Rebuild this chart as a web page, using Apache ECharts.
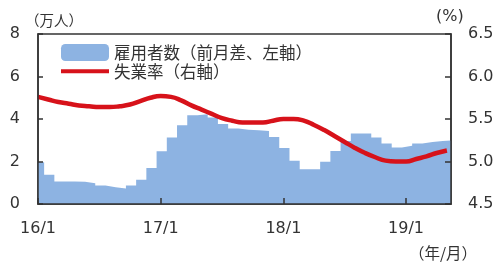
<!DOCTYPE html>
<html>
<head>
<meta charset="utf-8">
<script src="https://cdn.jsdelivr.net/npm/echarts@6/dist/echarts.min.js"></script>
<style>
html,body{margin:0;padding:0;background:#fff;}
#chart{width:500px;height:266px;}
</style>
</head>
<body>
<div id="chart"></div>
<script>
// Monthly data, 2016/1 .. 2019/5 (index 0 = 16/1)
const employmentChange = [1.96,1.38,1.06,1.06,1.05,0.98,0.87,0.79,0.73,0.87,1.14,1.70,2.48,3.13,3.71,4.18,4.22,4.07,3.76,3.55,3.50,3.47,3.43,3.15,2.63,2.03,1.63,1.63,1.99,2.50,2.97,3.32,3.32,3.13,2.85,2.66,2.74,2.85,2.92,2.97,3.00];
const unemploymentRate = [5.76,5.73,5.70,5.68,5.66,5.65,5.64,5.64,5.65,5.67,5.71,5.75,5.77,5.76,5.72,5.66,5.61,5.56,5.51,5.48,5.46,5.46,5.46,5.48,5.50,5.50,5.48,5.43,5.37,5.30,5.23,5.16,5.10,5.05,5.01,5.00,5.00,5.03,5.06,5.10,5.13];
const xTickLabels = ['16/1','17/1','18/1','19/1'];
const seriesNames = ['雇用者数（前月差、左軸）','失業率（右軸）'];

const BLUE = '#8db3e2';
const RED = '#d7121a';
const INK = '#333333';
const NUM_FONT = 'DejaVu Sans';
const JP_FONT = 'Noto Sans CJK JP';

// bars: each month's step spans its own month band
const empData = employmentChange.map((v, k) => [k - 0.4, v]);
empData.push([employmentChange.length - 0.4, employmentChange[employmentChange.length - 1]]);
const rateData = unemploymentRate.map((v, k) => [k, v]);

const chart = echarts.init(document.getElementById('chart'), null, {renderer: 'canvas'});
chart.setOption({
  animation: false,
  grid: {left: 38, right: 49, top: 34, bottom: 62, show: true, borderColor: INK, borderWidth: 1.5, backgroundColor: 'transparent'},
  legend: {
    orient: 'vertical', left: 61, top: 44, padding: 0, itemWidth: 48, itemHeight: 17, itemGap: 2,
    symbolKeepAspect: true,
    textStyle: {fontFamily: JP_FONT, fontSize: 16.5, color: INK},
    data: [
      {name: seriesNames[0], icon: 'roundRect', itemStyle: {color: BLUE, borderWidth: 0}},
      {name: seriesNames[1], icon: 'path://M0,0 L48,0 L48,4 L0,4 Z', itemStyle: {color: RED, borderWidth: 0}}
    ]
  },
  xAxis: {
    type: 'value', min: 0, max: 40.4, interval: 12, z: 10,
    axisLine: {show: true, lineStyle: {color: INK, width: 1.5}},
    axisTick: {show: true, inside: true, length: 6, lineStyle: {color: INK, width: 1.5}},
    splitLine: {show: false},
    axisLabel: {
      fontFamily: NUM_FONT, fontSize: 16, color: INK, margin: 17, showMinLabel: true, showMaxLabel: false,
      formatter: v => (Math.abs(v % 12) < 1e-9 ? (xTickLabels[v / 12] || '') : '')
    }
  },
  yAxis: [
    {
      type: 'value', min: 0, max: 8, interval: 2, position: 'left', z: 10,
      axisLine: {show: true, lineStyle: {color: INK, width: 1.5}},
      axisTick: {show: true, inside: true, length: 5, lineStyle: {color: INK, width: 1.5}},
      splitLine: {show: false},
      axisLabel: {fontFamily: NUM_FONT, fontSize: 16, color: INK, margin: 18}
    },
    {
      type: 'value', min: 4.5, max: 6.5, interval: 0.5, position: 'right', z: 10,
      axisLine: {show: true, lineStyle: {color: INK, width: 1.5}},
      axisTick: {show: true, inside: true, length: 6, lineStyle: {color: INK, width: 1.5}},
      splitLine: {show: false},
      axisLabel: {fontFamily: NUM_FONT, fontSize: 16, color: INK, margin: 17, formatter: v => v.toFixed(1)}
    }
  ],
  series: [
    {
      name: seriesNames[0], type: 'line', step: 'end', yAxisIndex: 0, data: empData,
      symbol: 'none', clip: true, z: 2,
      color: BLUE,
      itemStyle: {color: BLUE, borderWidth: 0},
      lineStyle: {width: 0, color: BLUE},
      areaStyle: {color: BLUE, opacity: 1}
    },
    {
      name: seriesNames[1], type: 'line', yAxisIndex: 1, data: rateData,
      symbol: 'none', smooth: 0.5, clip: true, z: 3,
      color: RED,
      itemStyle: {color: RED},
      lineStyle: {width: 4.5, color: RED}
    }
  ],
  graphic: [
    {type: 'text', left: 25, top: 13, style: {text: '（万人）', fontFamily: JP_FONT, fontSize: 14.5, fill: INK}},
    {type: 'text', left: 436, top: 9, style: {text: '(%)', fontFamily: NUM_FONT, fontSize: 16, fill: INK}},
    {type: 'text', left: 409, top: 245, style: {text: '（年/月）', fontFamily: JP_FONT, fontSize: 15.5, fill: INK}}
  ]
});
</script>
</body>
</html>
